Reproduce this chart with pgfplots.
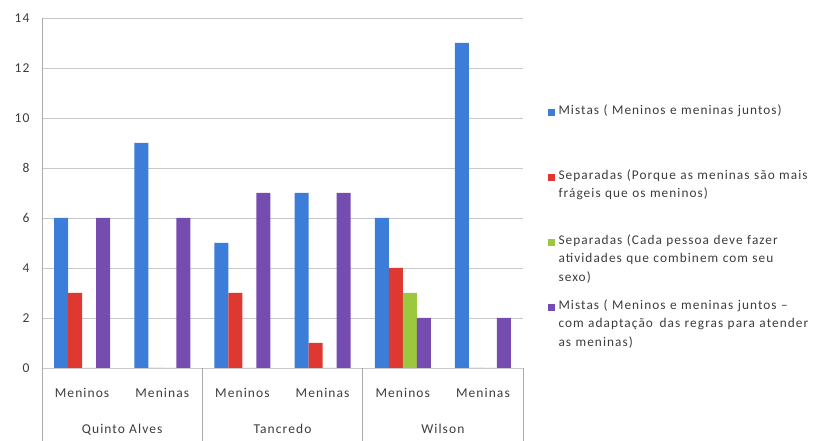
\documentclass[border=0pt]{standalone}
\usepackage{pgfplots}
\pgfplotsset{compat=1.18}
\usepackage{fontspec}
\setmainfont{Carlito}[LetterSpace=8]

\definecolor{txt}{RGB}{60,60,60}
\definecolor{gridc}{RGB}{200,200,200}
\definecolor{sepc}{RGB}{170,170,170}
\definecolor{cblue}{RGB}{59,125,216}
\definecolor{cred}{RGB}{222,56,49}
\definecolor{cgreen}{RGB}{155,200,62}
\definecolor{cpurple}{RGB}{117,77,176}

\pgfplotsset{
  sqlegend/.style={legend image code/.code={\fill[##1] (0pt,21pt) rectangle (6.5pt,27.5pt);}},
}
\tikzset{
  grouplabel/.style={anchor=base, text=txt, font=\fontsize{13.5}{16}\selectfont},
}

\begin{document}
\begin{tikzpicture}
\useasboundingbox (0,0) rectangle (814pt,441pt);
\begin{axis}[
  at={(42pt,73pt)}, anchor=south west,
  scale only axis, width=481pt, height=350pt,
  ybar=0pt, bar width=14pt,
  sqlegend,
  xmin=-0.5, xmax=5.5, ymin=0, ymax=14,
  enlargelimits=false,
  ytick={0,2,...,14},
  xtick={0,...,5},
  xticklabels={Meninos,Meninas,Meninos,Meninas,Meninos,Meninas},
  axis line style={draw=none},
  major tick length=0pt,
  ymajorgrids, grid style={draw=gridc, line width=0.9pt},
  tick label style={font=\fontsize{13.5}{16}\selectfont, text=txt},
  /pgf/number format/assume math mode=true,
  yticklabel style={xshift=-9pt},
  xticklabel style={anchor=base, yshift=-30pt},
  clip=false,
  legend cell align=left,
  legend style={
    at={(1.052,0.754)}, anchor=north west,
    draw=none, fill=none, inner sep=0pt, outer sep=0pt,
    row sep=0pt, column sep=4pt,
    nodes={text width=262pt, align=left, inner sep=0pt,
      text height=10pt, text depth=55pt,
      font=\fontsize{13.3}{18.5}\selectfont, text=txt},
  },
]
\addplot[fill=cblue, draw=none] coordinates {(0,6) (1,9) (2,5) (3,7) (4,6) (5,13)};
\addplot[fill=cred, draw=none] coordinates {(0,3) (1,0) (2,3) (3,1) (4,4) (5,0)};
\addplot[fill=cgreen, draw=none] coordinates {(0,0) (1,0) (2,0) (3,0) (4,3) (5,0)};
\addplot[fill=cpurple, draw=none] coordinates {(0,6) (1,6) (2,7) (3,7) (4,2) (5,2)};
\addlegendentry{Mistas ( Meninos e meninas juntos)}
\addlegendentry{Separadas (Porque as meninas são mais\\frágeis que os meninos)}
\addlegendentry{Separadas (Cada pessoa deve fazer\\atividades que combinem com seu\\sexo)}
\addlegendentry{Mistas ( Meninos e meninas juntos –\\com adaptação\, das regras para atender\\as meninas)}

% frame of the category area below the plot
\draw[sepc, line width=0.9pt] (axis cs:-0.5,14) -- ([yshift=-73pt]axis cs:-0.5,0);
\draw[sepc, line width=0.9pt] (axis cs:1.5,0) -- ([yshift=-73pt]axis cs:1.5,0);
\draw[sepc, line width=0.9pt] (axis cs:3.5,0) -- ([yshift=-73pt]axis cs:3.5,0);
\draw[sepc, line width=0.9pt] (axis cs:5.5,0) -- ([yshift=-73pt]axis cs:5.5,0);
\node[grouplabel] at ([yshift=-66pt]axis cs:0.5,0) {Quinto Alves};
\node[grouplabel] at ([yshift=-66pt]axis cs:2.5,0) {Tancredo};
\node[grouplabel] at ([yshift=-66pt]axis cs:4.5,0) {Wilson};
\end{axis}
\end{tikzpicture}
\end{document}
